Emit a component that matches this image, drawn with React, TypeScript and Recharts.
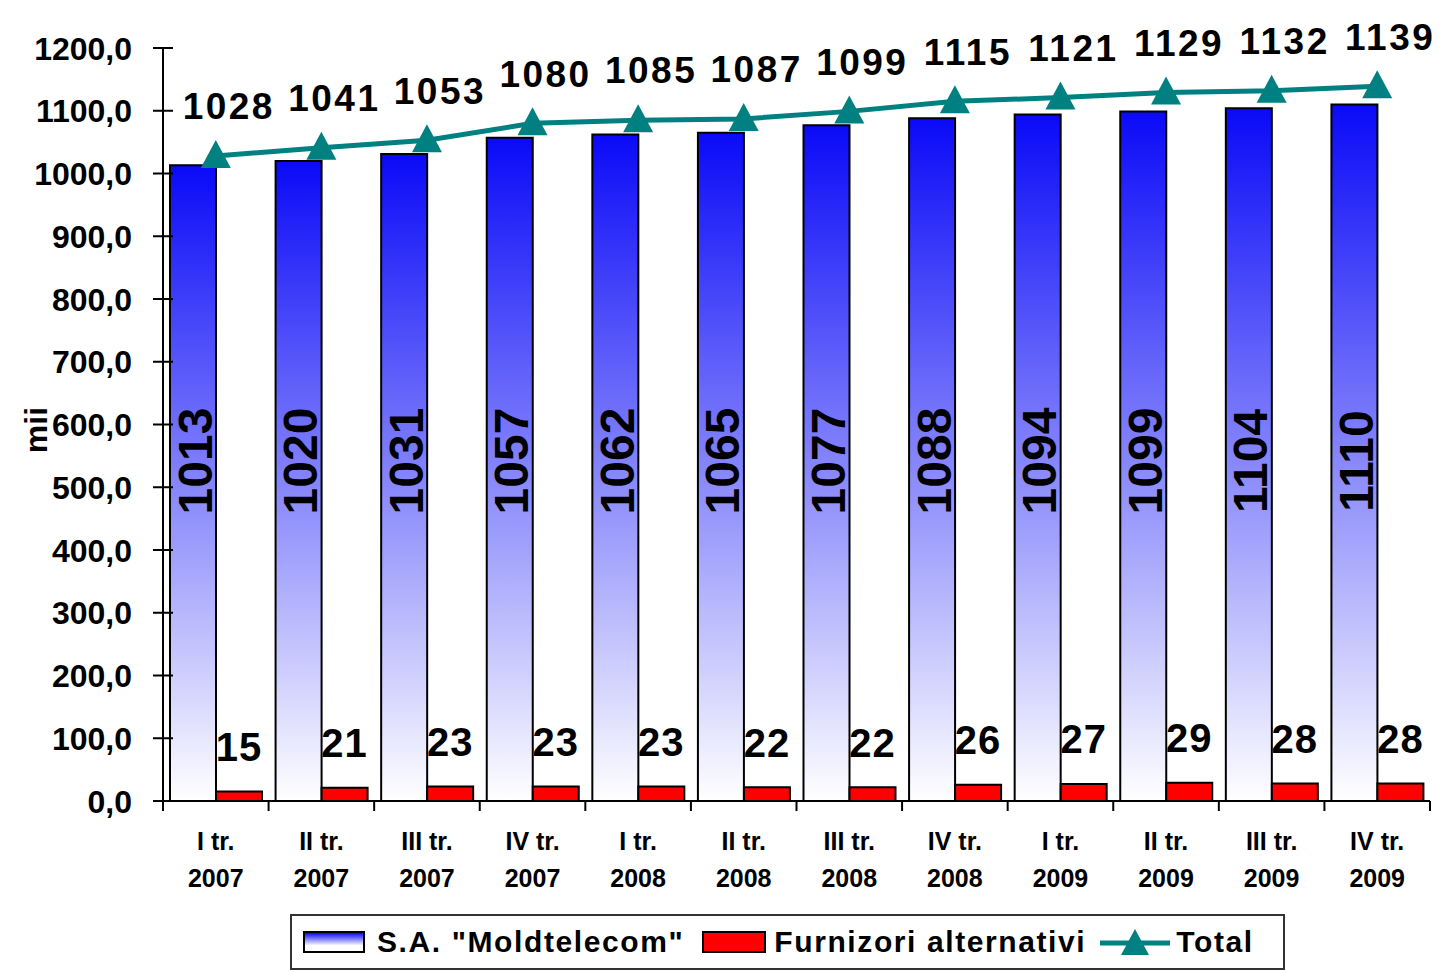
import { ComposedChart, Bar, Line, XAxis, YAxis, LabelList, Label } from 'recharts';

const quarters = ['I tr.', 'II tr.', 'III tr.', 'IV tr.'];
const years = ['2007', '2008', '2009'];
const moldtelecom = [1013, 1020, 1031, 1057, 1062, 1065, 1077, 1088, 1094, 1099, 1104, 1110];
const alternativi = [15, 21, 23, 23, 23, 22, 22, 26, 27, 29, 28, 28];
const total = [1028, 1041, 1053, 1080, 1085, 1087, 1099, 1115, 1121, 1129, 1132, 1139];
const yTicks = [0, 100, 200, 300, 400, 500, 600, 700, 800, 900, 1000, 1100, 1200];

const data = years.flatMap((yr, yi) =>
    quarters.map((q, qi) => {
        const i = yi * 4 + qi;
        return { q, yr, mt: moldtelecom[i], alt: alternativi[i], total: total[i] };
    })
);

const W = 1442;
const H = 970;
const LEFT = 163;
const RIGHT = 12;
const BAND = (W - LEFT - RIGHT) / data.length;
const FONT = '"Liberation Sans", Arial, sans-serif';

const YTick = (props: any) => {
    const { x, y, payload } = props;
    const ax = x + 10 + 21;
    return (
        <g>
            <line x1={ax - 10} x2={ax + 10} y1={y} y2={y} stroke="#000" strokeWidth={2} />
            <text x={x} y={y} dy="0.36em" textAnchor="end" fontSize={32} fontWeight="bold" fill="#000" fontFamily={FONT}>
                {payload.value.toFixed(1).replace('.', ',')}
            </text>
        </g>
    );
};

const XTick = (props: any) => {
    const { x, y, payload, index } = props;
    const d = data[index];
    return (
        <g>
            {index === 0 && <line x1={x - BAND / 2} x2={x - BAND / 2} y1={y} y2={y + 10} stroke="#000" strokeWidth={2} />}
            <line x1={x + BAND / 2} x2={x + BAND / 2} y1={y} y2={y + 10} stroke="#000" strokeWidth={2} />
            <text x={x} y={y + 49} textAnchor="middle" fontSize={25} fontWeight="bold" fill="#000" fontFamily={FONT}>{payload.value}</text>
            <text x={x} y={y + 86} textAnchor="middle" fontSize={25} fontWeight="bold" fill="#000" fontFamily={FONT}>{d ? d.yr : ''}</text>
        </g>
    );
};

// value labels sit at a fixed height above the axis, like in the original
const RotLabel = (p: any) => {
    const cx = p.x + p.width / 2 + 2;
    const cy = p.y + p.height - 340;
    return (
        <text x={cx} y={cy} transform={`rotate(-90 ${cx} ${cy})`} textAnchor="middle" dominantBaseline="central"
            fontSize={48} fontWeight="bold" fill="#000" fontFamily={FONT}>{p.value}</text>
    );
};

const AltLabel = (p: any) => (
    <text x={p.x + p.width / 2} y={p.y - 45} dy="0.36em" textAnchor="middle" fontSize={40} fontWeight="bold" letterSpacing={1} fill="#000" fontFamily={FONT}>
        {p.value}
    </text>
);

const TotalLabel = (p: any) => (
    <text x={p.x + 13} y={p.y - 50} dy="0.36em" textAnchor="middle" fontSize={37} fontWeight="bold" letterSpacing={2.5} fill="#000" fontFamily={FONT}>
        {p.value}
    </text>
);

const Tri = (p: any) => {
    const { cx, cy } = p;
    if (cx == null || cy == null) return null;
    return <polygon points={`${cx},${cy - 16} ${cx + 15},${cy + 12} ${cx - 15},${cy + 12}`} fill="#008080" />;
};

export default function App() {
    return (
        <div style={{ position: 'absolute', left: 0, top: 0, width: W, height: H, background: '#fff', fontFamily: FONT }}>
            <ComposedChart width={W} height={H} data={data} margin={{ top: 48, right: RIGHT, left: 0, bottom: 69 }}
                barCategoryGap={7} barGap={0}>
                <defs>
                    <linearGradient id="mtGrad" x1="0" y1="0" x2="0" y2="1">
                        <stop offset="0%" stopColor="#0a0af8" />
                        <stop offset="100%" stopColor="#ffffff" />
                    </linearGradient>
                </defs>
                <XAxis dataKey="q" height={100} interval={0} tickLine={false} tickSize={0} tickMargin={0}
                    axisLine={{ stroke: '#000', strokeWidth: 2 }} tick={<XTick />} />
                <YAxis width={LEFT} domain={[0, 1200]} ticks={yTicks} interval={0} tickLine={false} tickSize={10} tickMargin={21}
                    axisLine={{ stroke: '#000', strokeWidth: 2 }} tick={<YTick />}>
                    <Label content={() => (
                        <text x={36} y={430} transform="rotate(-90 36 430)" textAnchor="middle" dominantBaseline="central"
                            fontSize={32} fontWeight="bold" fill="#000" fontFamily={FONT}>mii</text>
                    )} />
                </YAxis>
                <Bar dataKey="mt" fill="url(#mtGrad)" stroke="#000" strokeWidth={2} isAnimationActive={false}>
                    <LabelList dataKey="mt" content={<RotLabel />} />
                </Bar>
                <Bar dataKey="alt" fill="#ff0000" stroke="#000" strokeWidth={2} isAnimationActive={false}>
                    <LabelList dataKey="alt" content={<AltLabel />} />
                </Bar>
                <Line dataKey="total" type="linear" stroke="#008080" strokeWidth={5} dot={<Tri />} activeDot={false} isAnimationActive={false}>
                    <LabelList dataKey="total" content={<TotalLabel />} />
                </Line>
            </ComposedChart>
            <div style={{
                position: 'absolute', left: 290, top: 914, width: 991, height: 52, border: '2px solid #333',
                display: 'flex', alignItems: 'center', fontSize: 30, fontWeight: 'bold', color: '#000', letterSpacing: 1.6,
            }}>
                <div style={{ width: 58, height: 18, marginLeft: 11, border: '2px solid #000', background: 'linear-gradient(#0a0af8, #ffffff 70%)' }} />
                <span style={{ marginLeft: 12 }}>S.A. "Moldtelecom"</span>
                <div style={{ width: 60, height: 18, marginLeft: 18, border: '2px solid #000', background: '#ff0000' }} />
                <span style={{ marginLeft: 8 }}>Furnizori alternativi</span>
                <svg width={70} height={30} style={{ marginLeft: 14 }}>
                    <line x1={0} x2={70} y1={16} y2={16} stroke="#008080" strokeWidth={5} />
                    <polygon points="35,2 49,28 21,28" fill="#008080" />
                </svg>
                <span style={{ marginLeft: 6 }}>Total</span>
            </div>
        </div>
    );
}
